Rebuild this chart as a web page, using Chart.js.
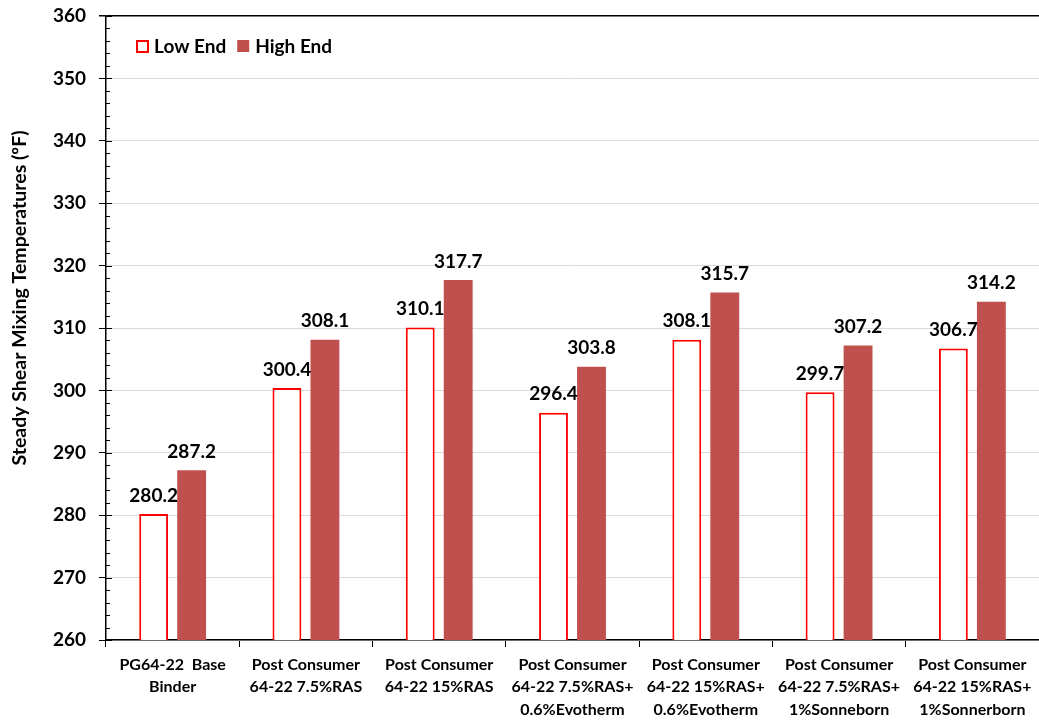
<!DOCTYPE html>
<html>
<head>
<meta charset="utf-8">
<script src="https://cdn.jsdelivr.net/npm/chart.js@4/dist/chart.umd.min.js"></script>
<style>
  html, body { margin: 0; padding: 0; background: #fff; }
  #wrap { width: 1039px; height: 721px; position: relative; }
</style>
</head>
<body>
<div id="wrap"><canvas id="chart"></canvas></div>
<script>
// данные графика
const categories = [
  ["PG64-22  Base", "Binder"],
  ["Post Consumer", "64-22 7.5%RAS"],
  ["Post Consumer", "64-22 15%RAS"],
  ["Post Consumer", "64-22 7.5%RAS+", "0.6%Evotherm"],
  ["Post Consumer", "64-22 15%RAS+", "0.6%Evotherm"],
  ["Post Consumer", "64-22 7.5%RAS+", "1%Sonneborn"],
  ["Post Consumer", "64-22 15%RAS+", "1%Sonnerborn"],
];
const lowEnd = [280.2, 300.4, 310.1, 296.4, 308.1, 299.7, 306.7];
const highEnd = [287.2, 308.1, 317.7, 303.8, 315.7, 307.2, 314.2];
const seriesNames = ["Low End", "High End"];
const yMin = 260;
const yMax = 360;
const yStep = 10;
const yMinorStep = 2;
const yTitle = "Steady Shear Mixing Temperatures (ºF)";

const FONT = "Lato";

// подписи значений над столбцами
const valueLabels = {
  id: "valueLabels",
  afterDatasetsDraw(chart) {
    const { ctx } = chart;
    ctx.save();
    ctx.font = `bold 19px ${FONT}`;
    ctx.fillStyle = "#000";
    ctx.textAlign = "center";
    ctx.textBaseline = "bottom";
    chart.data.datasets.forEach((ds, i) => {
      chart.getDatasetMeta(i).data.forEach((bar, j) => {
        ctx.fillText(ds.data[j].toFixed(1), bar.x, bar.y - 9);
      });
    });
    ctx.restore();
  },
};

// мелкие засечки на оси Y
const minorTicks = {
  id: "minorTicks",
  afterDraw(chart) {
    const { ctx } = chart;
    const y = chart.scales.y;
    ctx.save();
    ctx.strokeStyle = "#000";
    ctx.lineWidth = 1;
    for (let v = yMin; v <= yMax; v += yMinorStep) {
      const py = Math.round(y.getPixelForValue(v)) + 0.5;
      const len = v % yStep === 0 ? 6 : 4;
      ctx.beginPath();
      ctx.moveTo(y.right, py);
      ctx.lineTo(y.right + len, py);
      ctx.stroke();
    }
    ctx.restore();
  },
};

// легенда внутри области графика
const innerLegend = {
  id: "innerLegend",
  afterDraw(chart) {
    const { ctx, chartArea } = chart;
    ctx.save();
    ctx.font = `bold 19px ${FONT}`;
    ctx.textBaseline = "middle";
    let x = chartArea.left + 31;
    const cy = chartArea.top + 31;
    chart.data.datasets.forEach((ds) => {
      if (ds.borderWidth && ds.backgroundColor === "#FFFFFF") {
        ctx.fillStyle = "#fff";
        ctx.fillRect(x, cy - 6, 11, 11);
        ctx.strokeStyle = ds.borderColor;
        ctx.lineWidth = 2;
        ctx.strokeRect(x, cy - 6, 11, 11);
      } else {
        ctx.fillStyle = ds.backgroundColor;
        ctx.fillRect(x - 1, cy - 7, 12, 12);
      }
      ctx.fillStyle = "#000";
      ctx.fillText(ds.label, x + 17, cy);
      x += 17 + ctx.measureText(ds.label).width + 12;
    });
    ctx.restore();
  },
};

// подпись оси Y
const yAxisTitle = {
  id: "yAxisTitle",
  afterDraw(chart) {
    const { ctx } = chart;
    ctx.save();
    ctx.font = `bold 19.5px ${FONT}`;
    ctx.fillStyle = "#000";
    ctx.textAlign = "center";
    ctx.textBaseline = "middle";
    ctx.translate(20, 298);
    ctx.rotate(-Math.PI / 2);
    ctx.fillText(yTitle, 0, 0);
    ctx.restore();
  },
};

new Chart(document.getElementById("chart"), {
  type: "bar",
  data: {
    labels: categories,
    datasets: [
      {
        label: seriesNames[0],
        data: lowEnd,
        backgroundColor: "#FFFFFF",
        borderColor: "#FF0000",
        borderWidth: 2,
        borderSkipped: false,
      },
      {
        label: seriesNames[1],
        data: highEnd,
        backgroundColor: "#C0504D",
        borderWidth: 0,
      },
    ],
  },
  options: {
    responsive: true,
    maintainAspectRatio: false,
    animation: false,
    categoryPercentage: 0.57,
    barPercentage: 0.76,
    layout: { padding: { top: 16, right: 0, left: 0, bottom: 0 } },
    plugins: {
      legend: { display: false },
      tooltip: { enabled: false },
    },
    scales: {
      x: {
        grid: {
          offset: true,
          drawOnChartArea: false,
          tickColor: "#000",
          tickLength: 7,
        },
        border: { color: "#000", width: 1.5 },
        ticks: {
          color: "#000",
          font: { family: FONT, weight: "bold", size: 16, lineHeight: 1.42 },
          padding: 6,
          maxRotation: 0,
          autoSkip: false,
        },
        afterFit(scale) {
          scale.height = 81;
        },
      },
      y: {
        min: yMin,
        max: yMax,
        grid: {
          color: (c) => (c.tick && c.tick.value === yMax ? "#000" : "#D9D9D9"),
          lineWidth: (c) => (c.tick && c.tick.value === yMax ? 1.5 : 1),
          tickColor: "#000",
          tickLength: 7,
        },
        border: { color: "#000", width: 1.5 },
        ticks: {
          stepSize: yStep,
          color: "#000",
          font: { family: FONT, weight: "bold", size: 19 },
          padding: 13,
        },
        afterFit(scale) {
          scale.width = 106;
          scale.paddingTop = 0; // верх графика задаём через layout.padding
          scale.paddingBottom = 0;
        },
      },
    },
  },
  plugins: [valueLabels, minorTicks, innerLegend, yAxisTitle],
});
</script>
</body>
</html>
